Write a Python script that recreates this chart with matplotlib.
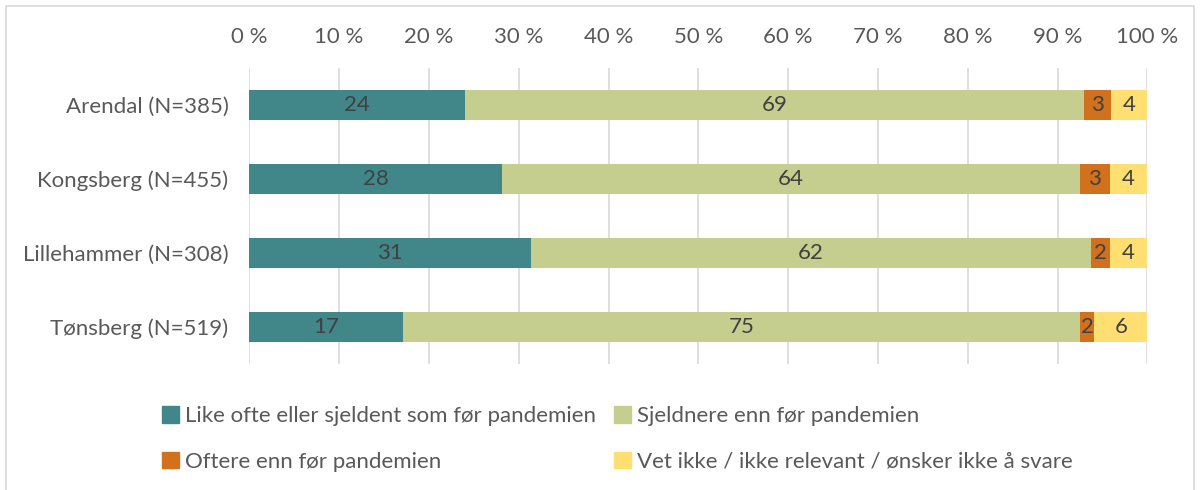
import matplotlib.pyplot as plt
from matplotlib.patches import Patch, Rectangle

plt.rcParams['font.family'] = ['Lato', 'DejaVu Sans']

# Data
kommuner = ['Arendal (N=385)', 'Kongsberg (N=455)', 'Lillehammer (N=308)', 'Tønsberg (N=519)']
like_ofte = [24.0, 28.1, 31.4, 17.1]
sjeldnere = [68.9, 64.4, 62.3, 75.4]
oftere = [3.1, 3.3, 2.1, 1.6]
vet_ikke = [4.0, 4.2, 4.2, 5.9]
serier = ['Like ofte eller sjeldent som før pandemien', 'Sjeldnere enn før pandemien',
          'Oftere enn før pandemien', 'Vet ikke / ikke relevant / ønsker ikke å svare']
farger = ['#41878A', '#C5CD8F', '#D2711D', '#FFDF71']
xticks = [0, 10, 20, 30, 40, 50, 60, 70, 80, 90, 100]

fs = 16

fig = plt.figure(figsize=(12, 4.9), dpi=100)
ax = fig.add_axes([0.2078, 0.2571, 0.7483, 0.604])

ypos = list(range(len(kommuner)))
left = [0.0] * len(kommuner)
for verdier, farge, navn in zip([like_ofte, sjeldnere, oftere, vet_ikke], farger, serier):
    bars = ax.barh(ypos, verdier, left=left, height=0.4, color=farge, label=navn, zorder=2)
    for b, v in zip(bars, verdier):
        ax.text(b.get_x() + b.get_width() / 2, b.get_y() + b.get_height() / 2,
                str(round(v)), ha='center', va='center', fontsize=fs, color='#404040')
    left = [l + v for l, v in zip(left, verdier)]

ax.set_xlim(0, 100)
ax.set_ylim(len(kommuner) - 0.5, -0.5)
ax.set_yticks(ypos)
ax.set_yticklabels(kommuner, fontsize=fs, color='#595959')
ax.set_xticks(xticks)
ax.set_xticklabels([f'{t} %' for t in xticks], fontsize=fs, color='#595959')
ax.xaxis.tick_top()
ax.tick_params(axis='both', length=0)
ax.tick_params(axis='y', pad=15)
ax.tick_params(axis='x', pad=15)
ax.grid(axis='x', color='#D9D9D9', linewidth=1.2, zorder=0)
for s in ax.spines.values():
    s.set_visible(False)

handles = [Patch(color=farger[0]), Patch(color=farger[2]), Patch(color=farger[1]), Patch(color=farger[3])]
labels = [serier[0], serier[2], serier[1], serier[3]]
fig.legend(handles, labels, loc='upper left', bbox_to_anchor=(0.135, 0.171), ncol=2,
           frameon=False, fontsize=fs, labelcolor='#595959', handlelength=0.75,
           handleheight=0.75, handletextpad=0.3, columnspacing=0.8, labelspacing=1.15,
           borderaxespad=0, borderpad=0)

fig.patches.append(Rectangle((0.005, -0.1), 0.99, 1.088, transform=fig.transFigure,
                             fill=False, edgecolor='#D9D9D9', linewidth=1.2))

fig.savefig('out.png', dpi=100)
